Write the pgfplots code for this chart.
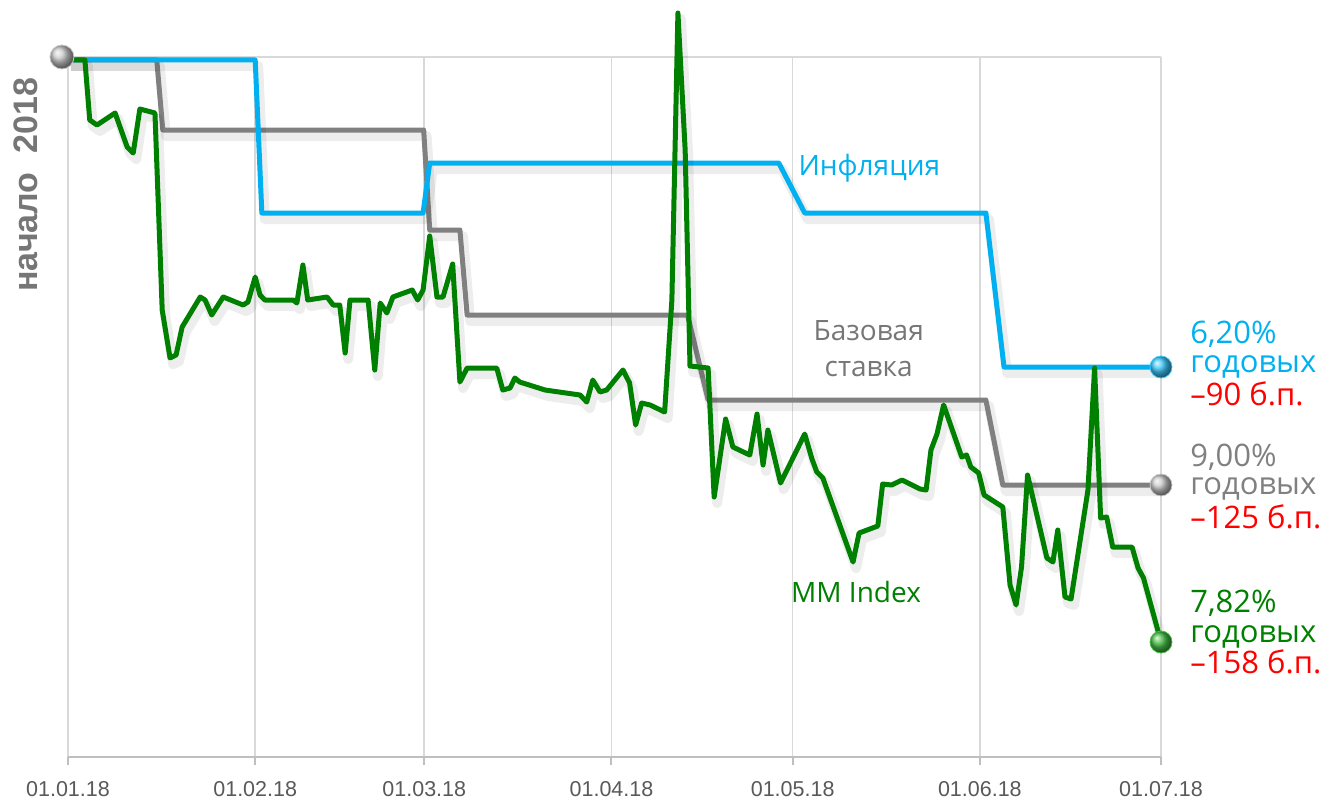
\documentclass[border=0pt]{standalone}
\usepackage{fontspec}
\setmainfont{Open Sans}
\newfontfamily\arialf{Liberation Sans}
\usepackage{pgfplots}
\pgfplotsset{compat=1.18}
\definecolor{infl}{RGB}{0,176,240}
\definecolor{base}{RGB}{128,128,128}
\definecolor{mm}{RGB}{0,128,0}
\definecolor{lab}{RGB}{118,118,118}
\definecolor{gridc}{RGB}{217,217,217}
\definecolor{axl}{RGB}{191,191,191}
\definecolor{tickc}{RGB}{89,89,89}
\definecolor{redc}{RGB}{255,0,0}
\definecolor{ballgray}{RGB}{200,200,200}
\definecolor{ballblue}{RGB}{60,200,250}
\definecolor{ballgreen}{RGB}{70,190,70}
\begin{document}
\begin{tikzpicture}
\begin{axis}[
  scale only axis, width=546.5pt, height=350pt,
  xmin=0, xmax=181, ymin=-697, ymax=3, enlargelimits=false, clip=false,
  axis x line*=bottom, axis y line*=left,
  x axis line style={draw=axl, line width=1pt, -},
  y axis line style={draw=none},
  xtick={0,31,59,90,120,151,181},
  xticklabels={01.01.18,01.02.18,01.03.18,01.04.18,01.05.18,01.06.18,01.07.18},
  xticklabel style={font=\arialf\fontsize{10.75}{12}\selectfont, text=tickc, anchor=north, yshift=-4.5pt},
  x tick style={draw=axl, line width=1pt}, tick align=outside, major tick length=4pt,
  ytick={3}, yticklabels={}, y tick style={draw=none},
  xmajorgrids, ymajorgrids, grid style={draw=gridc, line width=0.8pt},
  shad/.style={line width=2.5pt, line join=round, no marks,
     preaction={draw=black, draw opacity=0.07, line width=5pt, transform canvas={xshift=1.5pt,yshift=-3pt}}},
]
% Base rate
\addplot[base, shad] coordinates {(0,0) (14.7,0) (15.7,-70) (58.9,-70) (59.9,-170) (64.9,-170) (66.1,-255) (102.6,-255) (106.0,-340) (152.0,-340) (154.8,-425) (181,-425)};
% Inflation
\addplot[infl, shad] coordinates {(0,0) (31.0,0) (32.1,-153) (58.8,-153) (59.9,-103) (117.7,-103) (122.0,-153) (152.0,-153) (155.0,-307) (181,-307)};
% MM Index
\addplot[mm, shad] coordinates {
(0,0) (2.8,0) (3.6,-60) (4.8,-65) (7.8,-53) (9.8,-87) (10.8,-93) (11.9,-49) (14.4,-53)
(15.6,-250) (16.9,-298) (17.9,-295) (18.9,-267) (21.9,-237) (22.7,-240) (23.8,-255)
(25.7,-237) (29.0,-245) (29.8,-242) (31.0,-217) (31.8,-235) (32.6,-240) (37.3,-240)
(37.9,-243) (38.9,-205) (39.7,-240) (42.9,-237) (43.9,-245) (45.0,-245) (45.9,-293)
(46.7,-240) (49.7,-240) (50.8,-310) (51.7,-243) (52.8,-253) (53.8,-237) (57.0,-230)
(57.9,-240) (58.8,-230) (59.9,-176) (61.1,-237) (62.1,-237) (63.7,-204) (64.9,-322)
(66.1,-308) (71.0,-308) (72.0,-330) (73.2,-328) (74.0,-318) (74.8,-322) (79.0,-330)
(84.8,-335) (85.9,-342) (86.9,-320) (88.1,-332) (89.2,-330) (91.9,-310) (93.0,-323)
(94.0,-365) (95.0,-343) (96.4,-345) (98.8,-352) (100.0,-240) (101.0,47) (102.2,-90)
(103.0,-306) (106.0,-308) (107.0,-437) (108.9,-359) (110.1,-387) (112.9,-395)
(114.1,-354) (115.1,-405) (115.9,-370) (118.0,-423) (122.0,-374) (123.2,-399)
(124.0,-412) (125.0,-418) (130.0,-502) (131.0,-473) (134.1,-466) (134.9,-424)
(136.4,-425) (138.1,-420) (141.1,-429) (142.1,-430) (142.9,-390) (143.9,-374)
(145.0,-345) (148.0,-397) (148.8,-395) (149.5,-407) (150.8,-413) (151.7,-435)
(154.8,-447) (156.0,-525) (157.0,-545) (157.9,-507) (158.9,-415) (162.1,-498)
(163.1,-502) (163.9,-470) (165.1,-537) (166.1,-539) (168.9,-430) (170.0,-308)
(171.0,-458) (172.0,-457) (173.0,-487) (176.2,-487) (177.2,-508) (178.1,-518) (181,-582)};
% balls
\addplot[ballgray, only marks, mark=ball, mark size=6pt, mark options={ball color=ballgray}] coordinates {(-1,3)};
\addplot[ballblue, only marks, mark=ball, mark size=5.5pt, mark options={ball color=ballblue}] coordinates {(181,-307)};
\addplot[ballgray, only marks, mark=ball, mark size=5.5pt, mark options={ball color=ballgray}] coordinates {(181,-425)};
\addplot[ballgreen, only marks, mark=ball, mark size=5.5pt, mark options={ball color=ballgreen}] coordinates {(181,-582)};
% labels
\node[anchor=base, text=infl, font=\fontsize{14}{16}\selectfont, inner sep=0] at (axis cs:132.7,-115) {Инфляция};
\node[anchor=base, text=lab, font=\fontsize{14}{16}\selectfont, inner sep=0] at (axis cs:132.6,-280) {Базовая};
\node[anchor=base, text=lab, font=\fontsize{14}{16}\selectfont, inner sep=0] at (axis cs:132.6,-316) {ставка};
\node[anchor=base, text=mm, font=\fontsize{14}{16}\selectfont, inner sep=0] at (axis cs:130.5,-542) {MM Index};
\node[anchor=base west, rotate=90, text=lab, font=\arialf\bfseries\fontsize{17}{20}\selectfont, inner sep=0] at (axis cs:-4.97,-232) {начало\ \ 2018};
% right labels
\begin{scope}[every node/.style={anchor=base west, inner sep=0, font=\fontsize{15.5}{18}\selectfont}]
\node[text=infl] at (axis cs:185.8,-283) {6,20\%};
\node[text=infl] at (axis cs:185.8,-312) {годовых};
\node[text=redc] at (axis cs:185.8,-345) {–90 б.п.};
\node[text=base] at (axis cs:185.8,-406) {9,00\%};
\node[text=base] at (axis cs:185.8,-434) {годовых};
\node[text=redc] at (axis cs:185.8,-468) {–125 б.п.};
\node[text=mm] at (axis cs:185.8,-552) {7,82\%};
\node[text=mm] at (axis cs:185.8,-582) {годовых};
\node[text=redc] at (axis cs:185.8,-613) {–158 б.п.};
\end{scope}
\coordinate (bbsw) at (axis cs:-11.26,-739);
\coordinate (bbne) at (axis cs:208.32,60);
\end{axis}
\pgfresetboundingbox
\path[use as bounding box] (bbsw) rectangle (bbne);
\end{tikzpicture}
\end{document}
